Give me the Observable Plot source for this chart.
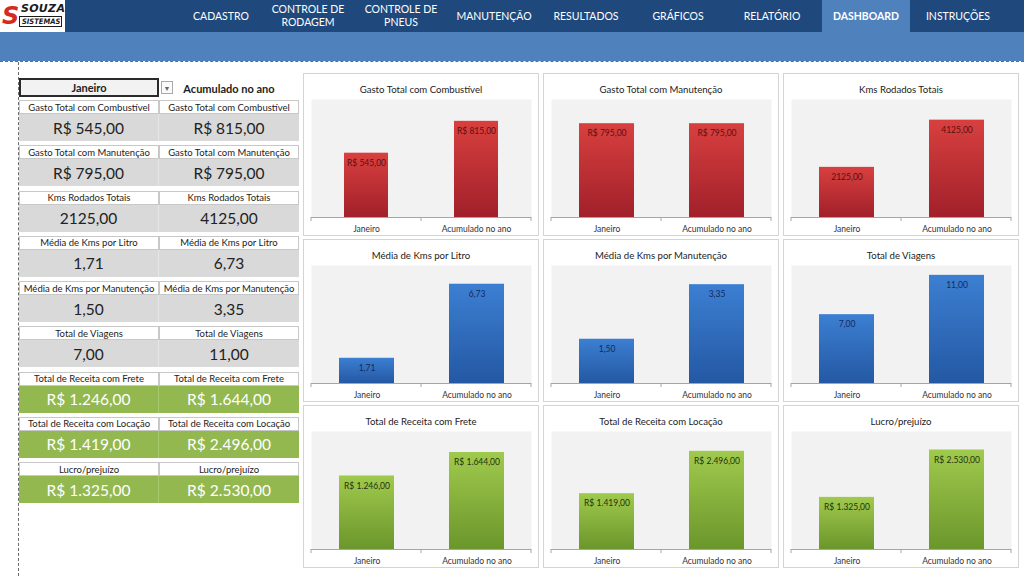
<!DOCTYPE html>
<html lang="pt-BR">
<head>
<meta charset="utf-8">
<script src="https://cdn.jsdelivr.net/npm/d3@7"></script>
<script src="https://cdn.jsdelivr.net/npm/@observablehq/plot@0.6"></script>
<style>
  html, body { margin: 0; padding: 0; background: #fff; }
  body { width: 1024px; height: 576px; position: relative; overflow: hidden; font-family: Lato, "Open Sans", sans-serif; color: #333; }
  .abs { position: absolute; box-sizing: border-box; }
  #topbar { left: 0; top: 0; width: 1024px; height: 32px; background: #1f497d; }
  #band { left: 0; top: 32px; width: 1024px; height: 29px; background: #4f81bd; }
  #hdash { left: 0; top: 61px; width: 1024px; height: 0; border-top: 1px dashed #6a6a6a; }
  #vdash { left: 18px; top: 62px; width: 0; height: 514px; border-left: 1px dashed #6a6a6a; }
  .nav { top: 0; height: 32px; width: 92px; display: flex; align-items: center; justify-content: center; text-align: center; color: #fff; font-size: 10.5px; line-height: 1.2; }
  .nav.active { background: #4f81bd; font-weight: 700; width: 88px; }
  #logo { left: 0; top: 0; width: 65px; height: 32px; background: #fff; overflow: hidden; }
  .cell { display: flex; align-items: center; justify-content: center; text-align: center; white-space: nowrap; }
  .lbl { height: 14px; background: #fff; border: 1px solid #c8c8c8; font-size: 9.5px; color: #222; }
  .val { height: 27px; background: #d9d9d9; font-size: 15.5px; color: #222; }
  .val.green { background: #93b84f; color: #fff; }
  .panel { width: 236px; height: 163px; background: #fff; border: 1px solid #d4d4d4; }
  .ptitle { left: 0; top: 10px; width: 100%; text-align: center; font-size: 9.6px; color: #222; }
  .panel svg { position: absolute; left: 0; top: 25px; }
</style>
</head>
<body>
<div id="topbar" class="abs"></div>
<div id="band" class="abs"></div>
<div id="hdash" class="abs"></div>
<div id="vdash" class="abs"></div>
<div id="logo" class="abs">
  <div class="abs" style="left:2px;top:3px;font:italic 900 24px/26px 'DejaVu Sans',sans-serif;color:#d62a20;">S</div>
  <div class="abs" style="left:21px;top:3px;font:italic 900 11px/12px 'DejaVu Sans',sans-serif;color:#1a1a1a;letter-spacing:0.3px;">SOUZA</div>
  <div class="abs" style="left:19px;top:16px;width:43px;height:11px;border:1px solid #1a1a1a;font:italic 700 7.5px/9px 'DejaVu Sans Condensed','DejaVu Sans',sans-serif;color:#1a1a1a;padding-left:2px;">SISTEMAS</div>
</div>
<div id="nav"></div>
<div id="table"></div>
<div id="charts"></div>

<script>
// ---------- data ----------
const navItems = ["CADASTRO", "CONTROLE DE<br>RODAGEM", "CONTROLE DE<br>PNEUS", "MANUTENÇÃO", "RESULTADOS", "GRÁFICOS", "RELATÓRIO", "DASHBOARD", "INSTRUÇÕES"];
const activeNav = "DASHBOARD";
const periods = ["Janeiro", "Acumulado no ano"];
const metrics = [
  "Gasto Total com Combustível",
  "Gasto Total com Manutenção",
  "Kms Rodados Totais",
  "Média de Kms por Litro",
  "Média de Kms por Manutenção",
  "Total de Viagens",
  "Total de Receita com Frete",
  "Total de Receita com Locação",
  "Lucro/prejuízo"
];
const janeiro   = [545, 795, 2125, 1.71, 1.50, 7, 1246, 1419, 1325];
const acumulado = [815, 795, 4125, 6.73, 3.35, 11, 1644, 2496, 2530];
const formats   = ["currency", "currency", "number", "number", "number", "number", "currency", "currency", "currency"];
const groups    = ["red", "red", "red", "blue", "blue", "blue", "green", "green", "green"];
const axisMax   = [1000, 1000, 5000, 8, 4, 12, 2000, 3000, 3000];

// ---------- styles ----------
const palette = {
  red:   {top: "#d8403f", bottom: "#a1202a", label: "#5a1010"},
  blue:  {top: "#3c7fd2", bottom: "#2458a3", label: "#15295a"},
  green: {top: "#a0ca4d", bottom: "#6b962b", label: "#26320c"}
};
const navCenters = [221, 308, 401, 494, 586, 678, 772, 866, 958];

const loc = d3.formatLocale({decimal: ",", thousands: ".", grouping: [3], currency: ["R$ ", ""]});
const fmtCur = loc.format("$,.2f");
const fmtNum = loc.format(".2f");
const fmt = (v, f) => f === "currency" ? fmtCur(v) : fmtNum(v);

// ---------- header nav ----------
const nav = d3.select("#nav");
navItems.forEach((t, i) => {
  const plain = t.replace("<br>", " ");
  const active = plain === activeNav;
  const w = active ? 88 : 92;
  nav.append("div")
    .attr("class", "abs nav" + (active ? " active" : ""))
    .style("left", (navCenters[i] - w / 2) + "px")
    .html(t);
});

// ---------- left table ----------
const table = d3.select("#table");
table.append("div").attr("class", "abs cell")
  .style("left", "19px").style("top", "78px").style("width", "140px").style("height", "19px")
  .style("border", "2px solid #2a2a2a").style("background", "#f2f2f2")
  .style("font-size", "11px").style("font-weight", "700").style("color", "#222")
  .text(periods[0]);
table.append("div").attr("class", "abs cell")
  .style("left", "161px").style("top", "81px").style("width", "12px").style("height", "13px")
  .style("border", "1px solid #aaa").style("background", "#fafafa")
  .style("font-size", "7px").style("color", "#666")
  .text("▼");
table.append("div").attr("class", "abs cell")
  .style("left", "178px").style("top", "80px").style("width", "102px").style("height", "16px")
  .style("font-size", "11px").style("font-weight", "700").style("color", "#222")
  .text(periods[1]);

metrics.forEach((m, k) => {
  const top = 100 + 45.25 * k;
  [janeiro, acumulado].forEach((series, c) => {
    const left = 19 + 140 * c;
    table.append("div").attr("class", "abs cell lbl")
      .style("left", left + "px").style("top", top + "px").style("width", "140px")
      .text(m);
    table.append("div").attr("class", "abs cell val" + (groups[k] === "green" ? " green" : ""))
      .style("left", left + "px").style("top", (top + 14) + "px").style("width", "140px")
      .style("border-right", c === 0 ? "1px solid " + (groups[k] === "green" ? "#a9c96e" : "#e6e6e6") : null)
      .text(fmt(series[k], formats[k]));
  });
});

// ---------- charts ----------
const charts = d3.select("#charts");
metrics.forEach((m, i) => {
  const col = i % 3, row = Math.floor(i / 3);
  const panel = charts.append("div").attr("class", "abs panel")
    .style("left", (303 + 240 * col) + "px")
    .style("top", (73 + 166 * row) + "px");
  panel.append("div").attr("class", "abs ptitle").text(m);

  const data = periods.map((p, j) => ({period: p, value: j === 0 ? janeiro[i] : acumulado[i]}));
  const pal = palette[groups[i]];
  const gid = "grad" + i;
  const pad = i === 0 ? 0.6 : 0.5;

  const boundaryTicks = (index, scales, values, dims) => {
    const g = d3.create("svg:g").attr("stroke", "#a6a6a6");
    const y0 = dims.height - dims.marginBottom;
    const x0 = dims.marginLeft, x1 = dims.width - dims.marginRight;
    [x0, (x0 + x1) / 2, x1].forEach(x => {
      g.append("line").attr("x1", x).attr("x2", x).attr("y1", y0).attr("y2", y0 + 4);
    });
    return g.node();
  };

  const svg = Plot.plot({
    width: 234,
    height: 138,
    marginTop: 0,
    marginBottom: 20,
    marginLeft: 7,
    marginRight: 7,
    style: {fontFamily: "Lato, 'Open Sans', sans-serif", fontSize: "8.5px", color: "#333", background: "transparent", overflow: "visible"},
    x: {domain: periods, paddingInner: pad, paddingOuter: pad / 2, label: null, tickSize: 0, tickPadding: 8},
    y: {domain: [0, axisMax[i]], axis: null},
    marks: [
      Plot.frame({fill: "#f2f2f2", stroke: null}),
      Plot.barY(data, {x: "period", y: "value", fill: `url(#${gid})`}),
      Plot.ruleY([0], {stroke: "#a6a6a6"}),
      boundaryTicks,
      Plot.text(data, {x: "period", y: "value", text: d => fmt(d.value, formats[i]), dy: 10, fill: pal.label, fontSize: 8.5})
    ]
  });
  d3.select(svg).insert("defs", ":first-child").html(
    `<linearGradient id="${gid}" x1="0" y1="0" x2="0" y2="1">
       <stop offset="0" stop-color="${pal.top}"/>
       <stop offset="1" stop-color="${pal.bottom}"/>
     </linearGradient>`);
  panel.node().appendChild(svg);
});
</script>
</body>
</html>
